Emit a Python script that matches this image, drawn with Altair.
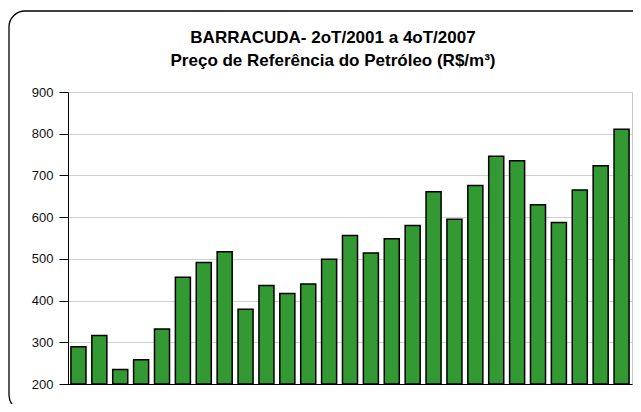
import altair as alt
import pandas as pd

quarters = [
    "2T/2001", "3T/2001", "4T/2001",
    "1T/2002", "2T/2002", "3T/2002", "4T/2002",
    "1T/2003", "2T/2003", "3T/2003", "4T/2003",
    "1T/2004", "2T/2004", "3T/2004", "4T/2004",
    "1T/2005", "2T/2005", "3T/2005", "4T/2005",
    "1T/2006", "2T/2006", "3T/2006", "4T/2006",
    "1T/2007", "2T/2007", "3T/2007", "4T/2007",
]
prices = [289, 316, 235, 258, 332, 456, 491, 517, 379, 436, 417, 440, 499, 556,
          514, 548, 580, 661, 595, 676, 746, 735, 630, 587, 665, 723, 811]
y_ticks = [200, 300, 400, 500, 600, 700, 800, 900]
y_min, y_max = 200, 900
title_lines = ["BARRACUDA- 2oT/2001 a 4oT/2007",
               "Preço de Referência do Petróleo (R$/m³)"]

df = pd.DataFrame({"trimestre": quarters, "preco": prices})

W, H = 564, 292
FONT = "Liberation Sans"

bars = alt.Chart(df).mark_bar(
    color="#339933", stroke="#000000", strokeWidth=1.5
).encode(
    x=alt.X("trimestre:N", sort=None,
            scale=alt.Scale(paddingInner=0.28, paddingOuter=0.14),
            axis=alt.Axis(labels=False, ticks=False, title=None, grid=False,
                          domainColor="#000000", domainWidth=1)),
    y=alt.Y("preco:Q",
            scale=alt.Scale(domain=[y_min, y_max], nice=False, zero=False),
            axis=alt.Axis(values=y_ticks, title=None, labelFont=FONT,
                          labelFontSize=13, labelColor="#111111",
                          labelPadding=6, tickSize=9, tickColor="#000000",
                          domainColor="#000000", gridColor="#d0d0d0",
                          gridWidth=1)),
    y2=alt.datum(y_min),
)

frame = alt.Chart(pd.DataFrame({"k": [0]})).mark_rect(
    fill="transparent", stroke="#000000", strokeWidth=1.3, cornerRadius=16
).encode(
    x=alt.value(-59), x2=alt.value(W + 40),
    y=alt.value(-81), y2=alt.value(H + 27),
)

chart = alt.layer(frame, bars).properties(
    width=W, height=H,
    padding={"left": 60, "top": 84, "right": 1, "bottom": 20},
    autosize=alt.AutoSizeParams(type="none"),
    title=alt.TitleParams(text=title_lines, font=FONT, fontSize=17,
                          fontWeight="bold", color="#000000", lineHeight=23,
                          anchor="middle", dx=-17, offset=-60),
).configure_view(stroke="#c8c8c8", strokeWidth=1)

chart.save("out.html", embed_options={"renderer": "svg", "actions": False})
